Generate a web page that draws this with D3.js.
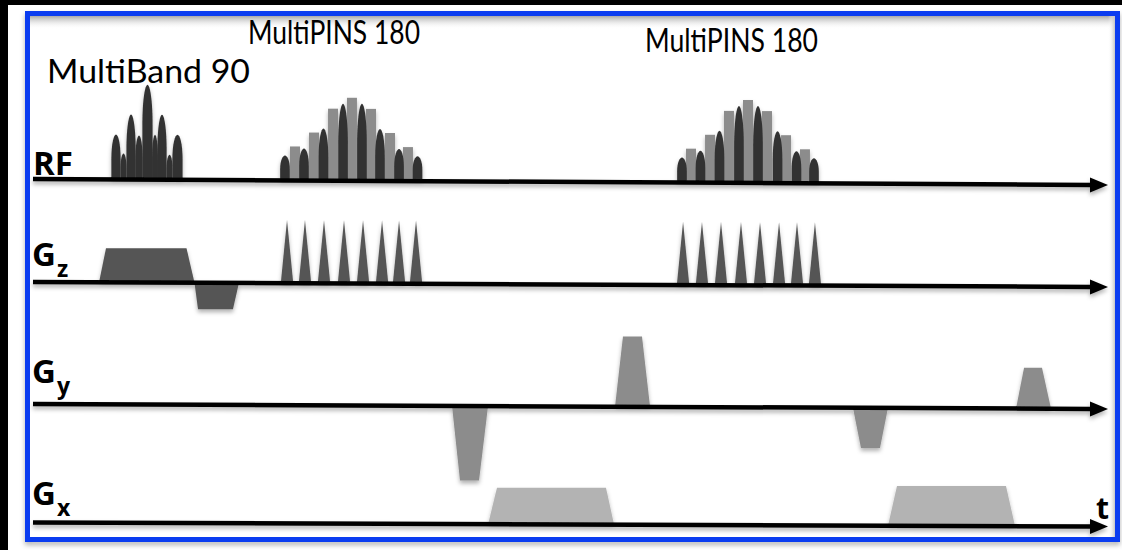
<!DOCTYPE html>
<html>
<head>
<meta charset="utf-8">
<script src="https://cdn.jsdelivr.net/npm/d3@7"></script>
<style>
  html, body { margin: 0; padding: 0; background: #000; }
  svg { display: block; }
</style>
</head>
<body>
<svg id="chart" width="1122" height="550"></svg>
<script>
// ---- Sequence timing (arbitrary time units, 0–100 across the sequence) ----
// RF amplitudes normalised to 1, gradient amplitudes normalised to ±1.

// MultiBand 90 excitation: lobes (centre time, duration, amplitude)
const mbLobeTimes  = [7.72, 8.42, 9.12, 9.86, 10.65, 11.35, 12.0, 12.70, 13.44];
const mbLobeWidths = [0.86, 0.55, 0.86, 0.68, 0.95, 0.55, 0.86, 0.55, 0.95];
const mbLobeAmps   = [0.45, 0.26, 0.65, 0.44, 0.95, 0.45, 0.65, 0.25, 0.45];

// MultiPINS 180 refocusing trains: shaped sub-pulses (dark) and hard sub-pulses (grey)
const pins1DarkTimes = [23.44, 25.21, 27.02, 28.84, 30.60, 32.28, 34.05, 35.77];
const pins2DarkTimes = [60.37, 62.09, 63.86, 65.67, 67.44, 69.26, 71.02, 72.65];
const pinsDarkAmps   = [0.25, 0.32, 0.52, 0.77, 0.77, 0.52, 0.32, 0.25];
const pinsDarkWidth  = 0.90;

const pins1GrayTimes = [24.37, 26.14, 27.91, 29.67, 31.44, 33.21, 34.88];
const pins2GrayTimes = [61.21, 62.98, 64.74, 66.51, 68.28, 70.05, 71.81];
const pinsGrayAmps   = [0.34, 0.48, 0.72, 0.83, 0.72, 0.48, 0.34];
const pinsGrayWidth  = 0.93;

// Gz blips played during the PINS trains
const gzBlip1Times = [23.63, 25.30, 27.07, 28.93, 30.70, 32.47, 34.05, 35.63];
const gzBlip2Times = [60.47, 62.23, 64.00, 65.86, 67.63, 69.40, 71.07, 72.74];
const gzBlipAmp    = 0.79;
const gzBlipWidth  = 1.16;

// Trapezoidal lobes: [start, ramp-up end, ramp-down start, end, amplitude]
const gzLobes = [
  [6.14, 6.79, 14.28, 15.02, 0.43],
  [15.02, 15.35, 18.60, 19.16, -0.33]
];
const gyLobes = [
  [38.98, 39.72, 41.49, 42.33, -0.93],
  [54.14, 54.88, 56.65, 57.40, 0.88],
  [76.28, 77.02, 78.79, 79.53, -0.50],
  [91.44, 92.19, 93.86, 94.70, 0.51]
];
const gxLobes = [
  [42.33, 43.16, 53.30, 54.05, 0.46],
  [79.53, 80.37, 90.51, 91.35, 0.50]
];

// Text
const pulseLabels = ["MultiBand 90", "MultiPINS 180", "MultiPINS 180"];
const rowLabels   = [["RF", ""], ["G", "z"], ["G", "y"], ["G", "x"]];
const timeLabel   = "t";

// ---- Layout ----
const W = 1122, H = 550;
const svg = d3.select("#chart");
const x = d3.scaleLinear().domain([0, 100]).range([33, 1108]);
const rfAmp = d3.scaleLinear().domain([0, 1]).range([0, 100]);
const gAmp = d3.scaleLinear().domain([-1, 1]).range([-80, 80]);

// Each timeline is drawn with a slight tilt (left / right baseline heights)
const rows = [
  { y0: 179, y1: 185 },
  { y0: 282, y1: 287 },
  { y0: 404, y1: 409 },
  { y0: 522.5, y1: 526.5 }
];
const [xa, xb] = x.range();
const base = (row, px) => row.y0 + (px - xa) / (xb - xa) * (row.y1 - row.y0);

const COLORS = {
  rf: "#333333",
  rfHard: "#8c8c8c",
  gz: "#555555",
  gy: "#8c8c8c",
  gx: "#b3b3b3",
  frame: "#0a3cf0"
};

// ---- Defs ----
const defs = svg.append("defs");
const shadow = defs.append("filter").attr("id", "shadow")
  .attr("filterUnits", "userSpaceOnUse")
  .attr("x", 0).attr("y", 0).attr("width", W).attr("height", H);
shadow.append("feDropShadow")
  .attr("dx", 0).attr("dy", 3).attr("stdDeviation", 2)
  .attr("flood-color", "#000").attr("flood-opacity", 0.3);

const frameShadow = defs.append("filter").attr("id", "frameShadow")
  .attr("filterUnits", "userSpaceOnUse")
  .attr("x", 0).attr("y", 0).attr("width", W).attr("height", H);
frameShadow.append("feGaussianBlur").attr("stdDeviation", 2.5);

const topGrad = defs.append("linearGradient").attr("id", "topGrad")
  .attr("x1", 0).attr("y1", 0).attr("x2", 0).attr("y2", 1);
topGrad.append("stop").attr("offset", 0).attr("stop-color", "#a8a8a8");
topGrad.append("stop").attr("offset", 1).attr("stop-color", "#ffffff").attr("stop-opacity", 0);

const sideGrad = defs.append("linearGradient").attr("id", "sideGrad")
  .attr("x1", 0).attr("y1", 0).attr("x2", 1).attr("y2", 0);
sideGrad.append("stop").attr("offset", 0).attr("stop-color", "#ffffff").attr("stop-opacity", 0);
sideGrad.append("stop").attr("offset", 1).attr("stop-color", "#c4c4c4");

// ---- Frame: black page, white slide, blue bordered panel ----
svg.append("rect").attr("x", 0).attr("y", 0).attr("width", W).attr("height", H)
  .style("fill", "#000000");
svg.append("rect").attr("x", 8).attr("y", 5).attr("width", W - 8).attr("height", H - 5)
  .style("fill", "#ffffff");
svg.append("rect").attr("x", 27.5).attr("y", 16.5).attr("width", 1090).attr("height", 526)
  .style("fill", "none").style("stroke", "#000").style("stroke-opacity", 0.3)
  .style("stroke-width", 5).attr("filter", "url(#frameShadow)");
svg.append("rect").attr("x", 27.5).attr("y", 13.5).attr("width", 1090).attr("height", 526)
  .style("fill", "#ffffff").style("stroke", COLORS.frame).style("stroke-width", 5);
svg.append("rect").attr("x", 30).attr("y", 16).attr("width", 1085).attr("height", 13)
  .style("fill", "url(#topGrad)");
svg.append("rect").attr("x", 1108).attr("y", 16).attr("width", 7).attr("height", 521)
  .style("fill", "url(#sideGrad)");

// ---- Waveforms ----
const g = svg.append("g").attr("filter", "url(#shadow)");

function bullet(row, t, w, a) {
  const l = x(t - w / 2), r = x(t + w / 2);
  const b = base(row, x(t));
  const h = rfAmp(a);
  const k = Math.min(h * 0.55, 40);  // height of the rounded tip
  const rx = (r - l) / 2, c = x(t);
  return `M${l},${b} L${l},${b - h + k} ` +
         `C${l},${b - h + k * 0.35} ${c - rx * 0.45},${b - h} ${c},${b - h} ` +
         `C${c + rx * 0.45},${b - h} ${r},${b - h + k * 0.35} ${r},${b - h + k} ` +
         `L${r},${b} Z`;
}
function hardPulse(row, t, w, a) {
  const l = x(t - w / 2), r = x(t + w / 2);
  const b = base(row, x(t));
  const h = rfAmp(a);
  return `M${l},${b} L${l},${b - h} L${r},${b - h} L${r},${b} Z`;
}
function blip(row, t, w, a) {
  const l = x(t - w / 2), r = x(t + w / 2), c = x(t);
  const b = base(row, c);
  return `M${l},${b} L${c},${b - gAmp(a)} L${r},${b} Z`;
}
function trapezoid(row, d) {
  const [s, ru, rd, e, a] = d;
  const b = base(row, x((s + e) / 2));
  const h = gAmp(a);
  return `M${x(s)},${b} L${x(ru)},${b - h} L${x(rd)},${b - h} L${x(e)},${b} Z`;
}

// RF row
const rf = rows[0];
g.append("g").selectAll("path").data(mbLobeTimes).join("path")
  .attr("d", (t, i) => bullet(rf, t, mbLobeWidths[i], mbLobeAmps[i]))
  .attr("fill", COLORS.rf);

[[pins1GrayTimes, pins1DarkTimes], [pins2GrayTimes, pins2DarkTimes]].forEach(([grayT, darkT]) => {
  g.append("g").selectAll("path").data(grayT).join("path")
    .attr("d", (t, i) => hardPulse(rf, t, pinsGrayWidth, pinsGrayAmps[i]))
    .attr("fill", COLORS.rfHard);
  g.append("g").selectAll("path").data(darkT).join("path")
    .attr("d", (t, i) => bullet(rf, t, pinsDarkWidth, pinsDarkAmps[i]))
    .attr("fill", COLORS.rf);
});

// Gz row
const gz = rows[1];
g.append("g").selectAll("path").data(gzLobes).join("path")
  .attr("d", d => trapezoid(gz, d)).attr("fill", COLORS.gz);
g.append("g").selectAll("path").data(gzBlip1Times.concat(gzBlip2Times)).join("path")
  .attr("d", t => blip(gz, t, gzBlipWidth, gzBlipAmp)).attr("fill", COLORS.gz);

// Gy row
g.append("g").selectAll("path").data(gyLobes).join("path")
  .attr("d", d => trapezoid(rows[2], d)).attr("fill", COLORS.gy);

// Gx row
g.append("g").selectAll("path").data(gxLobes).join("path")
  .attr("d", d => trapezoid(rows[3], d)).attr("fill", COLORS.gx);

// Time axes with arrowheads
const arrowLen = 18, arrowHalf = 7.5;
rows.forEach(row => {
  const xEnd = xb - arrowLen + 2;
  g.append("line")
    .attr("x1", xa).attr("y1", base(row, xa))
    .attr("x2", xEnd).attr("y2", base(row, xEnd))
    .attr("stroke", "#000").attr("stroke-width", 4.5);
  const bt = base(row, xb);
  g.append("path")
    .attr("d", `M${xb - arrowLen},${bt - arrowHalf} L${xb},${bt} L${xb - arrowLen},${bt + arrowHalf} Z`)
    .attr("fill", "#000");
});

// ---- Text ----
const labelFont = "Lato, 'Open Sans', sans-serif";
const pulseLabelPos = [[47, 83, 203], [248, 44, 172], [645, 52, 173]];
svg.append("g").selectAll("text").data(pulseLabels).join("text")
  .attr("x", (d, i) => pulseLabelPos[i][0])
  .attr("y", (d, i) => pulseLabelPos[i][1])
  .attr("textLength", (d, i) => pulseLabelPos[i][2])
  .attr("lengthAdjust", "spacingAndGlyphs")
  .attr("font-family", labelFont).attr("font-size", 32).attr("fill", "#000")
  .text(d => d);

const rowLabelPos = [[33, 175], [32, 266], [32, 383], [32, 505]];
const rl = svg.append("g").selectAll("text").data(rowLabels).join("text")
  .attr("x", (d, i) => rowLabelPos[i][0])
  .attr("y", (d, i) => rowLabelPos[i][1])
  .attr("font-family", "'Open Sans', sans-serif").attr("font-weight", 700)
  .attr("font-size", 33).attr("fill", "#000");
rl.append("tspan").text(d => d[0]);
rl.append("tspan").attr("dx", 1).attr("dy", 11).attr("font-size", 23).text(d => d[1]);

svg.append("text").attr("x", 1096).attr("y", 519)
  .attr("font-family", "'Open Sans', sans-serif").attr("font-weight", 700)
  .attr("font-size", 30).attr("fill", "#000").text(timeLabel);
</script>
</body>
</html>
